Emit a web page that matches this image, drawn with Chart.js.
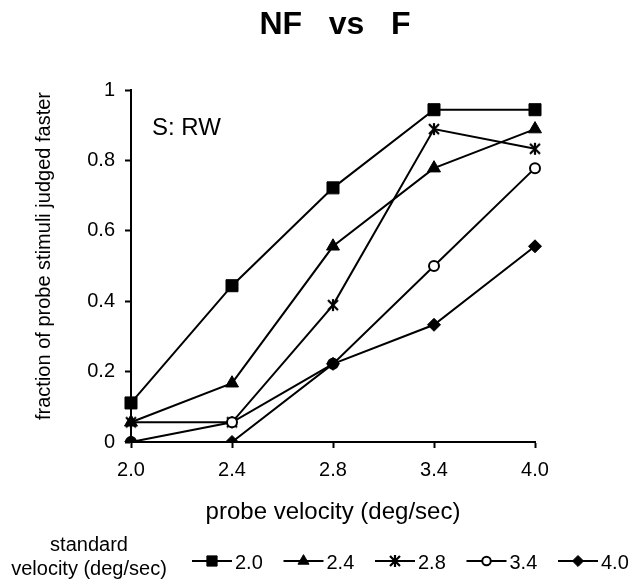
<!DOCTYPE html>
<html><head><meta charset="utf-8">
<script src="https://cdn.jsdelivr.net/npm/chart.js@4.4.1/dist/chart.umd.min.js"></script>
<style>html,body{margin:0;padding:0;background:#fff}#wrap{width:642px;height:579px}</style>
</head><body><div id="wrap"><canvas id="c" width="642" height="579"></canvas></div>
<script>
// ---- data ----
const categories = ['2.0', '2.4', '2.8', '3.4', '4.0'];
const seriesNames = ['2.0', '2.4', '2.8', '3.4', '4.0'];
const s20 = [0.111, 0.444, 0.722, 0.944, 0.944];
const s24 = [0.056, 0.167, 0.556, 0.778, 0.889];
const s28 = [0.056, 0.056, 0.389, 0.889, 0.833];
const s34 = [0.000, 0.056, 0.222, 0.500, 0.778];
const s40 = [0.000, 0.000, 0.222, 0.333, 0.556];
const yTicks = [0, 0.2, 0.4, 0.6, 0.8, 1];
const yTickLabels = ['0', '0.2', '0.4', '0.6', '0.8', '1'];

const FONT = '"Liberation Sans", Arial, Helvetica, sans-serif';
Chart.defaults.font.family = FONT;
Chart.defaults.color = '#000';

function starImg() {
  const c = document.createElement('canvas');
  c.width = 14; c.height = 14;
  const g = c.getContext('2d');
  g.strokeStyle = '#000'; g.lineWidth = 2.2;
  g.beginPath();
  g.moveTo(2, 2); g.lineTo(12, 12);
  g.moveTo(12, 2); g.lineTo(2, 12);
  g.moveTo(7, 1); g.lineTo(7, 13);
  g.stroke();
  return c;
}
const STAR = starImg();

function mk(label, data, style, radius, bg, order) {
  return {
    label, data, order,
    borderColor: '#000', borderWidth: 2, tension: 0, fill: false,
    pointStyle: style, pointRadius: radius, pointHoverRadius: radius,
    pointBackgroundColor: bg, pointBorderColor: '#000', pointBorderWidth: style === 'circle' ? 2 : 1
  };
}

const datasets = [
  mk(seriesNames[0], s20, 'rect', 8.5, '#000', 5),
  mk(seriesNames[1], s24, 'triangle', 7.5, '#000', 4),
  mk(seriesNames[2], s28, STAR, 7, '#000', 3),
  mk(seriesNames[3], s34, 'circle', 5, '#fff', 2),
  mk(seriesNames[4], s40, 'rectRot', 6.5, '#000', 1)
];

const extraText = {
  id: 'extraText',
  afterDraw(chart) {
    const ctx = chart.ctx;
    const area = chart.chartArea;
    ctx.save();
    ctx.fillStyle = '#000';
    // title
    ctx.font = 'bold 32px ' + FONT;
    ctx.textAlign = 'center'; ctx.textBaseline = 'middle';
    ctx.fillText('NF   vs   F', (area.left + area.right) / 2 + 2, 25);
    // y axis title
    ctx.save();
    ctx.translate(44, 256);
    ctx.rotate(-Math.PI / 2);
    ctx.font = '20px ' + FONT;
    ctx.fillText('fraction of probe stimuli judged faster', 0, 0);
    ctx.restore();
    // annotation
    ctx.font = '24px ' + FONT;
    ctx.textAlign = 'left'; ctx.textBaseline = 'alphabetic';
    ctx.fillText('S: RW', 152, 135);
    // legend caption
    ctx.font = '20px ' + FONT;
    ctx.textAlign = 'center';
    ctx.fillText('standard', 89, 551);
    ctx.fillText('velocity (deg/sec)', 89, 575);
    // legend items
    const y = 561;
    chart.data.datasets.forEach((ds, i) => {
      const x = 192 + i * 91.5;
      ctx.strokeStyle = '#000'; ctx.lineWidth = 2;
      ctx.beginPath(); ctx.moveTo(x, y); ctx.lineTo(x + 40, y); ctx.stroke();
      ctx.fillStyle = ds.pointBackgroundColor;
      ctx.strokeStyle = '#000';
      ctx.lineWidth = ds.pointBorderWidth;
      Chart.helpers.drawPoint(ctx, {
        pointStyle: ds.pointStyle, radius: ds.pointRadius * 0.85,
        borderWidth: ds.pointBorderWidth, rotation: 0
      }, x + 20, y);
      ctx.fillStyle = '#000';
      ctx.textAlign = 'left';
      ctx.fillText(ds.label, x + 43, 569);
    });
    ctx.restore();
  }
};

new Chart(document.getElementById('c'), {
  type: 'line',
  data: { labels: categories, datasets },
  plugins: [extraText],
  options: {
    responsive: false, animation: false,
    layout: { padding: { left: 0, right: 107, top: 90, bottom: 49 } },
    plugins: {
      legend: { display: false },
      tooltip: { enabled: false },
      title: { display: false }
    },
    scales: {
      x: {
        type: 'category', offset: false,
        grid: { display: true, drawOnChartArea: false, drawTicks: true, tickLength: 6, tickColor: '#000', tickWidth: 2 },
        border: { display: true, color: '#000', width: 2 },
        ticks: { color: '#000', font: { size: 20 }, padding: 10, maxRotation: 0, autoSkip: false },
        title: { display: true, text: 'probe velocity (deg/sec)', color: '#000', font: { size: 24 }, padding: { top: 0, bottom: 3 } },
        afterFit(s) { s.height = 88; }
      },
      y: {
        min: 0, max: 1,
        afterBuildTicks(s) { s.ticks = yTicks.map(v => ({ value: v })); },
        grid: { display: true, drawOnChartArea: false, drawTicks: true, tickLength: 6, tickColor: '#000', tickWidth: 2 },
        border: { display: true, color: '#000', width: 2 },
        ticks: {
          color: '#000', font: { size: 20 }, padding: 10,
          callback(v) { const i = yTicks.indexOf(v); return i >= 0 ? yTickLabels[i] : ''; }
        },
        afterFit(s) { s.width = 131; }
      }
    }
  }
});
</script>
</body></html>
